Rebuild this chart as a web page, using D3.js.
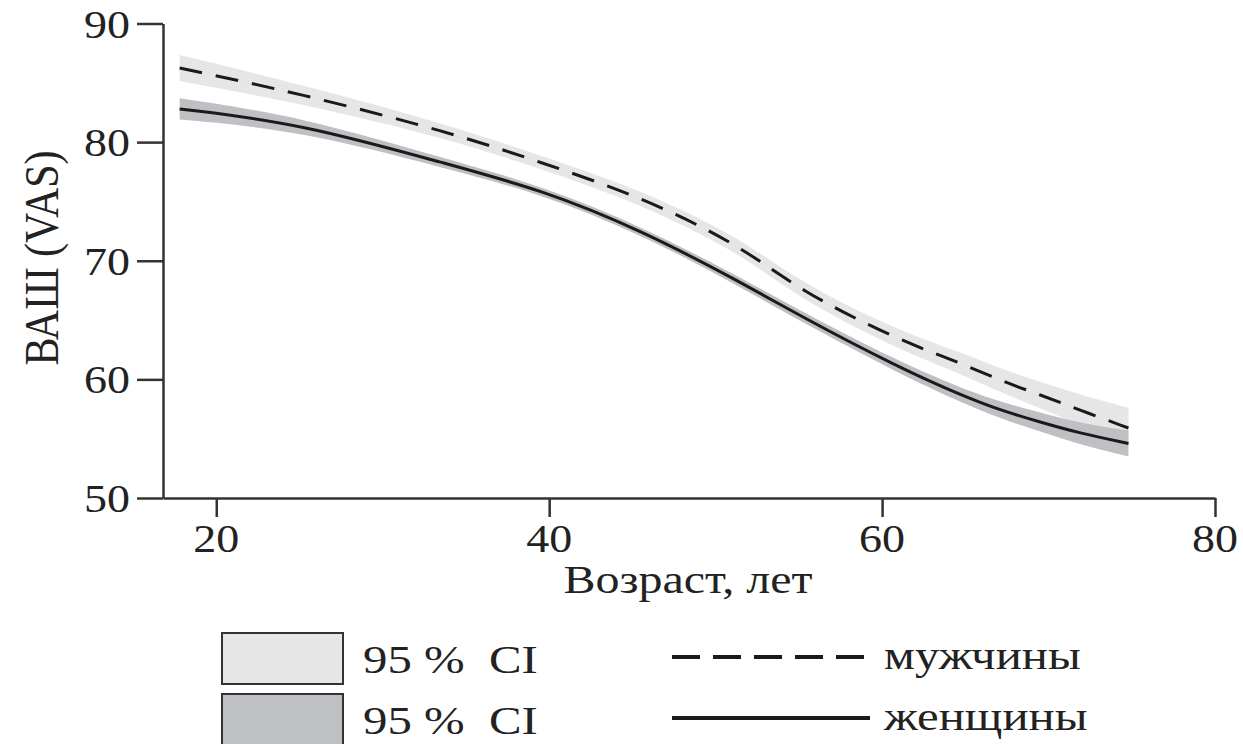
<!DOCTYPE html>
<html lang="ru">
<head>
    <meta charset="UTF-8">
    <script src="https://cdn.jsdelivr.net/npm/d3@7"></script>
    <title>ВАШ по возрасту</title>
    <style>
        html, body {
            margin: 0px;
            padding: 0px;
            background-color: #ffffff;
        }
        svg text {
            font-family: "Liberation Serif", "Times New Roman", serif;
            fill: #222;
        }
    </style>
</head>
<body>
    <div id="chart"></div>
    <script>
        // values
        let ages       = [17.8, 25, 34, 39.5, 45.5, 51.5, 55, 61, 64.7, 67.1, 69.5, 71.9, 74.8];
        let men        = [86.25, 84.1, 80.85, 78.3, 75.4, 71.3, 67.5, 63.3, 61.4, 59.9, 58.7, 57.4, 55.9];
        let men_lo     = [85.15, 83.3, 80.25, 77.75, 74.8, 70.65, 66.8, 62.5, 60.5, 58.9, 57.6, 56.1, 54.4];
        let men_hi     = [87.35, 84.9, 81.45, 78.85, 76.0, 71.95, 68.2, 64.1, 62.3, 60.9, 59.8, 58.7, 57.6];
        let women      = [82.8, 81.6, 78.1, 76.0, 72.6, 68.2, 65.4, 61.0, 58.7, 57.4, 56.4, 55.45, 54.6];
        let women_lo   = [81.9, 81.0, 77.7, 75.65, 72.25, 67.8, 64.95, 60.5, 58.1, 56.7, 55.6, 54.5, 53.5];
        let women_hi   = [83.7, 82.2, 78.5, 76.35, 72.95, 68.6, 65.85, 61.5, 59.3, 58.1, 57.2, 56.3, 55.7];

        let x_ticks = [20, 40, 60, 80];
        let y_ticks = [50, 60, 70, 80, 90];
        let legend_bands = ['95 % \u00a0CI', '95 % \u00a0CI'];
        let legend_lines = ['мужчины', 'женщины'];

        let width = 1243, height = 744;
        let font_size = 40;

        let svg = d3.select('#chart').append('svg')
            .attr('width', width).attr('height', height);

        let x = d3.scaleLinear().domain([16.8, 80]).range([163, 1215]);
        let y = d3.scaleLinear().domain([50, 90]).range([498, 23.5]);

        let rows = ages.map((a, i) => ({
            age: a, men: men[i], men_lo: men_lo[i], men_hi: men_hi[i],
            women: women[i], women_lo: women_lo[i], women_hi: women_hi[i]
        }));

        let curve = d3.curveBasis;

        let band = (lo, hi) => d3.area()
            .x(d => x(d.age)).y0(d => y(d[lo])).y1(d => y(d[hi])).curve(curve);
        let line = (key) => d3.line()
            .x(d => x(d.age)).y(d => y(d[key])).curve(curve);

        svg.append('path').datum(rows)
            .attr('d', band('men_lo', 'men_hi'))
            .attr('fill', '#e6e6e6');
        svg.append('path').datum(rows)
            .attr('d', band('women_lo', 'women_hi'))
            .attr('fill', '#bfc0c4');

        svg.append('path').datum(rows)
            .attr('d', line('men'))
            .attr('fill', 'none').attr('stroke', '#1a1a1a')
            .attr('stroke-width', 3).attr('stroke-dasharray', '23,14');
        svg.append('path').datum(rows)
            .attr('d', line('women'))
            .attr('fill', 'none').attr('stroke', '#1a1a1a')
            .attr('stroke-width', 3);

        // axes (lines from d3, labels placed by hand so they can be stretched)
        svg.append('g')
            .attr('transform', `translate(${x.range()[0]},0)`)
            .call(d3.axisLeft(y).tickValues(y_ticks).tickSize(26).tickSizeOuter(0).tickFormat(''));
        svg.append('g')
            .attr('transform', `translate(0,${y.range()[0]})`)
            .call(d3.axisBottom(x).tickValues(x_ticks).tickSize(19).tickSizeOuter(0).tickFormat(''));
        svg.selectAll('.domain, .tick line')
            .attr('stroke', '#333').attr('stroke-width', 2.5);

        // the figure's text is a little wide, so stretch it sideways
        let stretched = (sel, px, py, sx, rot) => sel
            .attr('transform', `translate(${px},${py}) scale(${sx},1)` + (rot ? ` rotate(${rot})` : ''));

        svg.selectAll('.ylab').data(y_ticks).join('text')
            .attr('class', 'ylab')
            .attr('font-size', font_size)
            .attr('text-anchor', 'end')
            .attr('dy', '0.35em')
            .text(d => d)
            .each(function(d) { stretched(d3.select(this), 130, y(d), 1.15); });

        svg.selectAll('.xlab').data(x_ticks).join('text')
            .attr('class', 'xlab')
            .attr('font-size', font_size)
            .attr('text-anchor', 'middle')
            .text(d => d)
            .each(function(d) { stretched(d3.select(this), x(d), 552, 1.15); });

        stretched(svg.append('text')
            .attr('font-size', font_size)
            .attr('text-anchor', 'middle')
            .text('Возраст, лет'), 688, 593, 1.2);

        stretched(svg.append('text')
            .attr('font-size', 42)
            .attr('text-anchor', 'middle')
            .text('ВАШ (VAS)'), 58, 258, 1.16, -90);

        // legend
        let band_fills = ['#e6e6e6', '#bfc0c4'];
        let legend_y = [633, 694];
        legend_bands.forEach((t, i) => {
            svg.append('rect')
                .attr('x', 222).attr('y', legend_y[i])
                .attr('width', 121).attr('height', 51)
                .attr('fill', band_fills[i])
                .attr('stroke', '#333').attr('stroke-width', 2);
            stretched(svg.append('text').attr('font-size', font_size).text(t), 363, legend_y[i] + 40, 1.22);
        });

        let dashes = ['28,13', null];
        legend_lines.forEach((t, i) => {
            svg.append('line')
                .attr('x1', 672).attr('x2', 870)
                .attr('y1', legend_y[i] + 24).attr('y2', legend_y[i] + 24)
                .attr('stroke', '#1a1a1a').attr('stroke-width', 4)
                .attr('stroke-dasharray', dashes[i]);
            stretched(svg.append('text').attr('font-size', font_size).text(t), 884, legend_y[i] + 36, 1.22);
        });
    </script>
</body>
</html>
